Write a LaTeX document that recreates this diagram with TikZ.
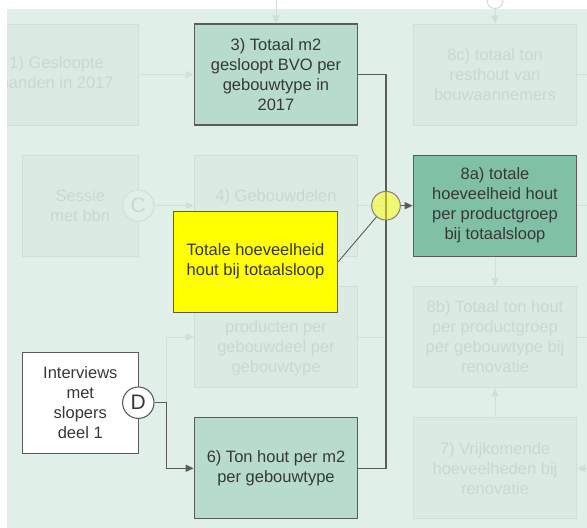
\documentclass[tikz,border=0pt]{standalone}
\usepackage{fontspec}
\setmainfont{Liberation Sans}
\usetikzlibrary{arrows.meta}

\definecolor{bgc}{HTML}{E0EFE8}
\definecolor{ffill}{HTML}{DBEBE3}
\definecolor{fline}{HTML}{CDE1D6}
\definecolor{ftext}{HTML}{C6DACF}
\definecolor{dline}{HTML}{5C5C5C}
\definecolor{dtext}{HTML}{383838}
\definecolor{boxg}{HTML}{B8DCCC}
\definecolor{boxdg}{HTML}{80C0A4}
\definecolor{yel}{HTML}{FFFF00}

\tikzset{
  basefont/.style={font=\fontsize{16.5}{20}\selectfont, align=center, inner sep=0pt},
  wide/.style={minimum width=163.5pt, minimum height=101pt},
  narrow/.style={minimum width=116pt, minimum height=101pt},
  activebox/.style={basefont, draw=dline, line width=1.1pt, text=dtext},
  fadedbox/.style={basefont, draw=fline, fill=ffill, line width=1pt, text=ftext},
  fadedtext/.style={basefont, text=ftext},
  dl/.style={draw=dline, line width=1.1pt},
  darr/.style={dl, -{Triangle[length=8pt,width=7pt]}},
  fl/.style={draw=fline, line width=1pt},
  farr/.style={fl, -{Triangle[length=8pt,width=7pt]}},
  letter/.style={circle, inner sep=0pt, minimum size=31.4pt, font=\fontsize{21}{21}\selectfont},
}

\begin{document}
\begin{tikzpicture}[x=1pt,y=-1pt]
\useasboundingbox (0,0) rectangle (587,528);
\fill[white] (0,0) rectangle (587,528);
\fill[bgc] (7,9) rectangle (587,528);

\begin{scope}
\clip (7,-20) rectangle (600,540);

% free ends of the connectors leaving the area
\coordinate (t3) at (276,-5);
\coordinate (k) at (166.7,402.7);
\coordinate (r1) at (595,74.5);
\coordinate (r2) at (595,205.7);
\coordinate (r3) at (595,337);
\coordinate (r4) at (595,468.3);

% greyed-out steps
\node[fadedbox, wide] (b1) at (56.7,74.5) {1) Gesloopte\\panden in 2017};
\node[fadedbox, wide] (b8c) at (495,74.5) {8c) totaal ton\\resthout van\\bouwaannemers};
\node[fadedbox, narrow] (bs) at (80.3,205.7) {Sessie\\met bbn};
\node[fadedbox, wide] (b4) at (276,205.7) {};
\node[fadedtext] (b4t) at (276,197) {4) Gebouwdelen};
\node[fadedbox, wide] (b5) at (276,337) {};
\node[fadedtext] (b5t) at (276,348) {producten per\\gebouwdeel per\\gebouwtype};
\node[fadedbox, wide] (b8b) at (495,337) {8b) Totaal ton hout\\per productgroep\\per gebouwtype bij\\renovatie};
\node[fadedbox, wide] (b7) at (495,468.3) {7) Vrijkomende\\hoeveelheden bij\\renovatie};
\node[letter, draw=fline, fill=bgc, line width=1pt, text=ftext] (C) at (138.3,205.7) {C};
\node[circle, draw=fline, line width=1pt, minimum size=16pt, inner sep=0pt] (tc) at (495,0.5) {};

% active steps
\node[activebox, wide, fill=boxg] (b3) at (276,74.5) {3) Totaal m2\\gesloopt BVO per\\gebouwtype in\\2017};
\node[activebox, wide, fill=boxdg] (b8a) at (495,205.7) {8a) totale\\hoeveelheid hout\\per productgroep\\bij totaalsloop};
\node[activebox, wide, fill=boxg] (b6) at (276,468.3) {6) Ton hout per m2\\per gebouwtype};
\node[activebox, narrow, fill=white] (bi) at (80.3,402.7) {Interviews\\met\\slopers\\deel 1};
\node[letter, draw=dline, fill=white, line width=1.1pt, text=dtext] (D) at (138.3,402.7) {D};

% greyed-out connectors
\draw[farr] (t3) -- (b3.north);
\draw[farr] (tc) -- (b8c.north);
\draw[farr] (b1.east) -- (b3.west);
\draw[farr] (C.east) -- (b4.west);
\draw[farr] (k) |- (b5.west);
\draw[farr] (b8a.south) -- (b8b.north);
\draw[farr] (b7.north) -- (b8b.south);
\draw[farr] (r4) -- (b7.east);
\draw[fl] (b8c.east) -- (r1);
\draw[fl] (b8a.east) -- (r2);
\draw[fl] (b8b.east) -- (r3);
\draw[fl] (b4.east) -- (386,205.7);
\draw[fl] (b5.east) -- (386,337);

% active connectors
\draw[dl] (b3.east) -| (386,205.7) |- (b6.east);
\draw[darr] (D.east) -- (k) |- (b6.west);

% yellow note and junction
\node[activebox, fill=yel, minimum width=164.5pt, minimum height=101pt] (yb) at (255.5,261.7) {Totale hoeveelheid\\hout bij totaalsloop};
\node[circle, draw=gray, line width=1pt, fill=yel, fill opacity=0.5, minimum size=28.6pt, inner sep=0pt] (circ) at (386,205.7) {};
\draw[dl, line width=0.9pt] (yb.east) -- (circ);
\draw[darr] (circ) -- (b8a.west);
\end{scope}
\end{tikzpicture}
\end{document}
